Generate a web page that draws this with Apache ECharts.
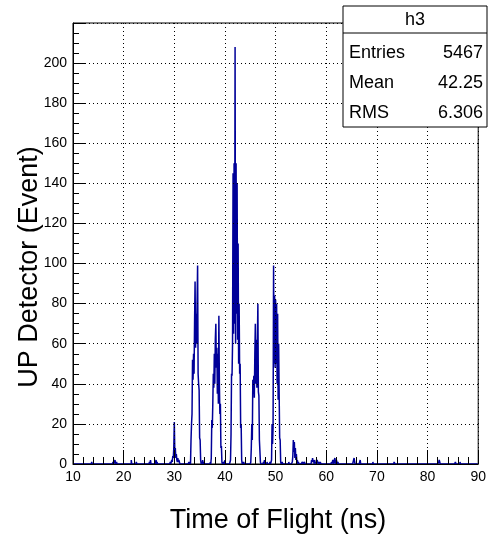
<!DOCTYPE html>
<html>
<head>
<meta charset="utf-8">
<script src="https://cdn.jsdelivr.net/npm/echarts@6/dist/echarts.min.js"></script>
<style>
html,body{margin:0;padding:0;background:#fff;}
#chart{width:489px;height:536px;}
</style>
</head>
<body>
<div id="chart"></div>
<script>
// ---- Data (histogram h3, bin width 0.1 ns, range 10-90 ns) ----
const xMin = 10;
const xMax = 90;
const binWidth = 0.1;
const xTicks = [10, 20, 30, 40, 50, 60, 70, 80, 90];
const yTicks = [0, 20, 40, 60, 80, 100, 120, 140, 160, 180, 200];

// cluster start times (ns) and bin contents for consecutive bins
const clusterStarts = [
  13.7, 17.9, 18.3, 18.6, 21.5, 22.5, 25.1, 25.3, 26.4, 29.2,
  29.5, 32.9, 33.3, 35.4, 37.1, 37.3, 39.8, 41.0, 41.1, 43.5,
  43.7, 45.1, 47.6, 48.3, 48.9, 49.2, 51.3, 52.6, 53.3, 55.3,
  55.7, 57.1, 61.0, 65.4, 66.6, 69.2, 73.4, 82.2, 85.5, 86.4
];
const clusterCounts = [
  [1], [1], [2], [1], [2], [1], [1], [2], [2, 0, 1], [1],
  [2, 1, 4, 3, 8, 21, 6, 8, 3, 5, 2, 1, 3, 1, 2, 1],
  [1, 0, 1],
  [12, 20, 25, 52, 42, 55, 45, 70, 91, 58, 75, 60, 80, 99, 45, 40, 37, 13, 12, 2],
  [1, 0, 2, 0, 1],
  [1],
  [3, 22, 18, 30, 45, 38, 55, 40, 62, 70, 48, 58, 35, 55, 30, 74, 40, 25, 30, 8, 9, 1],
  [1, 0, 2],
  [1],
  [2, 15, 45, 44, 60, 145, 65, 150, 70, 208, 60, 150, 75, 140, 62, 110, 50, 80, 45, 50, 18, 20, 2],
  [1],
  [1],
  [1, 8, 20, 12, 42, 35, 44, 33, 55, 70, 40, 62, 38, 60, 80, 36, 34, 12, 12, 1],
  [1, 0, 2],
  [1],
  [1],
  [2, 20, 10, 18, 99, 50, 84, 48, 82, 50, 80, 40, 75, 32, 60, 35, 13, 12, 1],
  [1],
  [1],
  [1, 4, 12, 6, 11, 3, 8, 2, 5, 1, 2, 0, 1],
  [1],
  [1],
  [2, 1, 3, 1, 2, 0, 2, 1, 1, 0, 1, 2, 1, 0, 0, 1, 0, 1, 1],
  [1, 0, 1, 2, 1, 0, 2, 3, 1, 0, 2, 1, 0, 1],
  [2, 3, 1],
  [1, 2],
  [1],
  [1, 1],
  [1, 2, 1],
  [1],
  [1]
];

const statsName = 'h3';
const statsLabels = ['Entries', 'Mean', 'RMS'];
const statsValues = ['5467', '42.25', '6.306'];

// ---- build the histogram table ----
const nBins = Math.round((xMax - xMin) / binWidth);
const counts = new Array(nBins).fill(0);
clusterStarts.forEach((t0, k) => {
  const i0 = Math.round((t0 - xMin) / binWidth);
  clusterCounts[k].forEach((v, j) => { counts[i0 + j] = v; });
});
const histData = [];
for (let i = 0; i < nBins; i++) {
  histData.push([+(xMin + i * binWidth).toFixed(2), counts[i]]);
}
histData.push([xMax, counts[nBins - 1]]);

const FONT = '"Liberation Sans", Arial, Helvetica, sans-serif';
const chart = echarts.init(document.getElementById('chart'), null, {renderer: 'canvas'});

const statsTop = 6, statsLeft = 343, statsW = 144, statsH = 121;
const rowY = [53, 83, 113];
const graphics = [
  {type: 'rect', z: 100, shape: {x: statsLeft, y: statsTop, width: statsW, height: statsH},
   style: {fill: '#fff', stroke: '#000', lineWidth: 1}},
  {type: 'line', z: 101, shape: {x1: statsLeft, y1: 33, x2: statsLeft + statsW, y2: 33},
   style: {stroke: '#000', lineWidth: 1}},
  {type: 'text', z: 101, x: statsLeft + statsW / 2, y: 20,
   style: {text: statsName, font: '18px ' + FONT, fill: '#000', textAlign: 'center', textVerticalAlign: 'middle'}},
  {type: 'text', z: 10, x: 278, y: 521,
   style: {text: 'Time of Flight (ns)', font: '27px ' + FONT, fill: '#000', textAlign: 'center', textVerticalAlign: 'middle'}},
  {type: 'text', z: 10, x: 30, y: 267, rotation: Math.PI / 2,
   style: {text: 'UP Detector (Event)', font: '27px ' + FONT, fill: '#000', textAlign: 'center', textVerticalAlign: 'middle'}}
];
statsLabels.forEach((lab, k) => {
  graphics.push({type: 'text', z: 101, x: statsLeft + 6, y: rowY[k],
    style: {text: lab, font: '18px ' + FONT, fill: '#000', textAlign: 'left', textVerticalAlign: 'middle'}});
  graphics.push({type: 'text', z: 101, x: statsLeft + statsW - 4, y: rowY[k],
    style: {text: statsValues[k], font: '18px ' + FONT, fill: '#000', textAlign: 'right', textVerticalAlign: 'middle'}});
});

chart.setOption({
  animation: false,
  backgroundColor: '#fff',
  grid: {left: 73, right: 8, top: 23, bottom: 72, show: true, borderColor: '#000', borderWidth: 1, backgroundColor: 'transparent'},
  xAxis: {
    type: 'value', min: xMin, max: xMax, interval: 10, z: 5,
    axisLine: {show: true, onZero: false, lineStyle: {color: '#000', width: 1}},
    axisTick: {show: true, inside: true, length: 14, lineStyle: {color: '#000'}},
    minorTick: {show: true, splitNumber: 5, length: 7, lineStyle: {color: '#000'}},
    splitLine: {show: true, lineStyle: {color: '#000', type: [1, 3], width: 1}},
    axisLabel: {color: '#000', fontSize: 14, fontFamily: FONT, margin: 6,
      formatter: v => (xTicks.indexOf(v) >= 0 ? String(v) : '')}
  },
  yAxis: {
    type: 'value', min: 0, max: 220, interval: 20, z: 5,
    axisLine: {show: true, lineStyle: {color: '#000', width: 1}},
    axisTick: {show: true, inside: true, length: 12, lineStyle: {color: '#000'}},
    minorTick: {show: true, splitNumber: 4, length: 6, lineStyle: {color: '#000'}},
    splitLine: {show: true, lineStyle: {color: '#000', type: [1, 3], width: 1}},
    axisLabel: {color: '#000', fontSize: 14, fontFamily: FONT, margin: 6,
      formatter: v => (yTicks.indexOf(v) >= 0 ? String(v) : '')}
  },
  series: [{
    type: 'line', step: 'end', data: histData, showSymbol: false, symbol: 'none',
    lineStyle: {color: '#000099', width: 1.5}, z: 2, silent: true
  }],
  graphic: graphics
});
</script>
</body>
</html>
